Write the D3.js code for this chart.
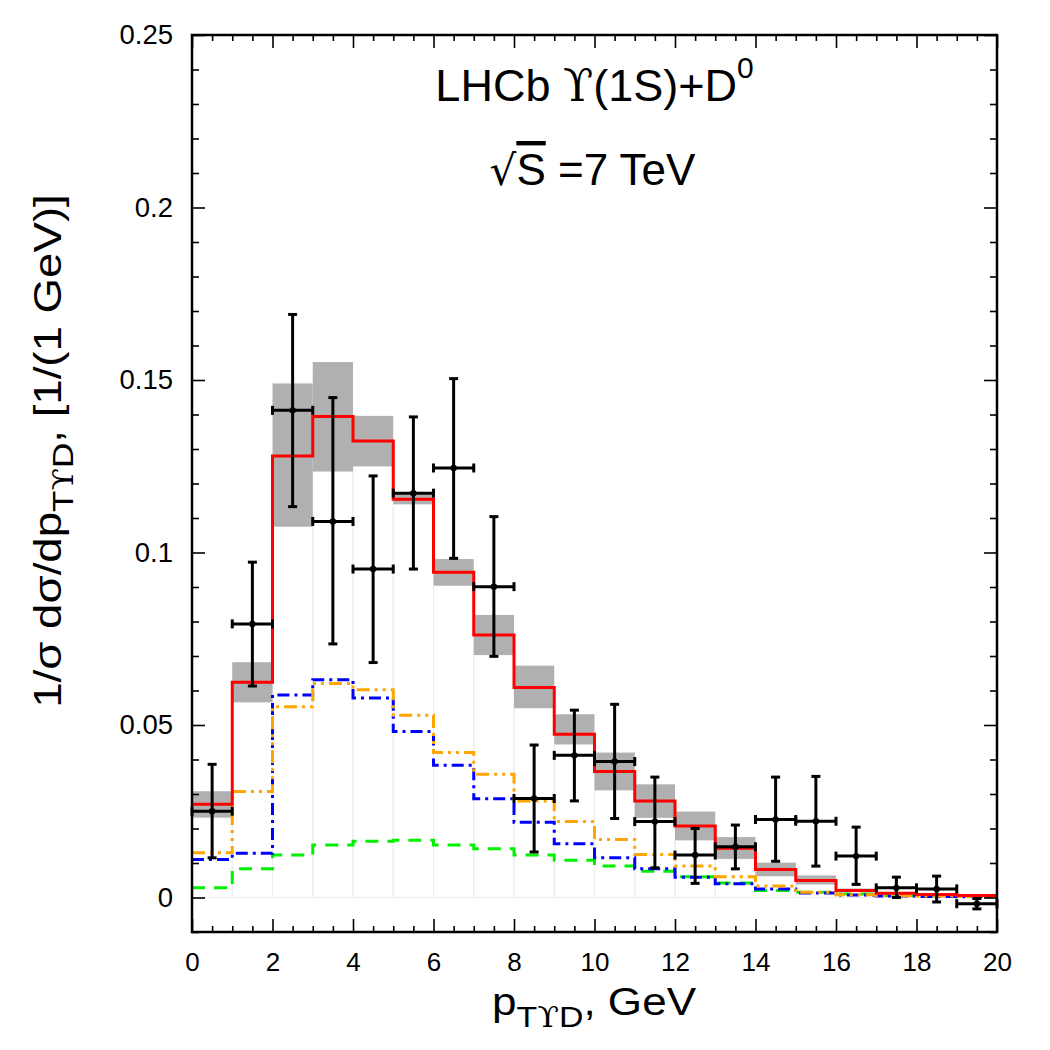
<!DOCTYPE html>
<html>
<head>
<meta charset="utf-8">
<script src="https://cdn.jsdelivr.net/npm/d3@7"></script>
<style>
  html, body { margin: 0; padding: 0; background: #fff; }
  svg { display: block; font-family: "Liberation Sans", Arial, Helvetica, sans-serif; }
</style>
</head>
<body>
<svg id="chart" width="1050" height="1050"></svg>
<script>
// ---------- data ----------
const binEdges = [0,1,2,3,4,5,6,7,8,9,10,11,12,13,14,15,16,17,18,19,20];

// total prediction (red) and its uncertainty band (grey)
const totalPred = [0.027,0.0624,0.128,0.1394,0.1323,0.1154,0.0943,0.0761,0.0609,0.0473,0.0365,0.0280,0.0207,0.0143,0.0081,0.0049,0.0020,0.0012,0.0009,0.0006];
const bandLow   = [0.0232,0.0566,0.1075,0.1235,0.1250,0.1140,0.0904,0.0703,0.0549,0.0444,0.0311,0.0231,0.0166,0.0112,0.0062,0.0038,0.0016,0.0009,0.0006,0.0004];
const bandHigh  = [0.0308,0.0682,0.1490,0.1552,0.1396,0.1175,0.0981,0.0819,0.0672,0.0531,0.0420,0.0328,0.0249,0.0175,0.0101,0.0064,0.0026,0.0016,0.0012,0.0008];

// components
const orangePred = [0.013,0.0307,0.0553,0.0620,0.0602,0.0528,0.0420,0.0357,0.0280,0.0220,0.0168,0.0125,0.0091,0.0060,0.0033,0.0015,0.0008,0.0005,0.0004,0.0003];
const bluePred   = [0.011,0.0128,0.0587,0.0631,0.0578,0.0481,0.0383,0.0286,0.0218,0.0156,0.0115,0.0083,0.0059,0.0040,0.0025,0.0013,0.0007,0.0004,0.0003,0.0002];
const greenPred  = [0.0028,0.0083,0.0123,0.0152,0.0163,0.0166,0.0152,0.0141,0.0123,0.0108,0.0091,0.0076,0.0060,0.0042,0.0020,0.0015,0.0010,0.0006,0.0004,0.0003];

// LHCb data points
const dataX    = [0.5,1.5,2.5,3.5,4.5,5.5,6.5,7.5,8.5,9.5,10.5,11.5,12.5,13.5,14.5,15.5,16.5,17.5,18.5,19.5];
const dataY    = [0.025,0.0793,0.1412,0.109,0.0952,0.1172,0.1245,0.0901,0.0287,0.0412,0.0394,0.022,0.0123,0.0147,0.0226,0.0221,0.012,0.0028,0.0025,-0.0018];
const dataYHi  = [0.0386,0.0972,0.169,0.1449,0.1222,0.1393,0.1504,0.1104,0.0442,0.0543,0.056,0.0349,0.020,0.021,0.0349,0.0351,0.0204,0.0059,0.0062,-0.0003];
const dataYLo  = [0.0115,0.0613,0.1133,0.0735,0.0681,0.0952,0.0983,0.0699,0.0132,0.028,0.0229,0.0086,0.0041,0.0083,0.0105,0.0091,0.0038,0.0,-0.0013,-0.0033];
const dataXErr = [0.5,0.5,0.5,0.5,0.5,0.5,0.5,0.5,0.5,0.5,0.5,0.5,0.5,0.5,0.5,0.5,0.5,0.5,0.5,0.5];

// ticks
const xTickValues = [0,2,4,6,8,10,12,14,16,18,20];
const xTickLabels = ["0","2","4","6","8","10","12","14","16","18","20"];
const yTickValues = [0,0.05,0.1,0.15,0.2,0.25];
const yTickLabels = ["0","0.05","0.1","0.15","0.2","0.25"];

// ---------- layout ----------
const svg = d3.select("#chart");
const L = 192, T = 35, R = 997, B = 932;
const W = R - L, H = B - T;

const x = d3.scaleLinear().domain([0, 20]).range([0, W]);
const y = d3.scaleLinear().domain([-0.01, 0.25]).range([H, 0]);

const g = svg.append("g").attr("transform", `translate(${L},${T})`);

const nb = totalPred.length;
const bins = d3.range(nb).map(i => ({x0: binEdges[i], x1: binEdges[i+1], i}));

// faint boxes from 0 to lower band
g.append("g").selectAll("rect").data(bins).join("rect")
  .attr("x", d => x(d.x0)).attr("width", d => x(d.x1) - x(d.x0))
  .attr("y", d => y(bandLow[d.i])).attr("height", d => y(0) - y(bandLow[d.i]))
  .attr("fill", "none").attr("stroke", "#ececec").attr("stroke-width", 1);

// grey uncertainty band
g.append("g").selectAll("rect").data(bins).join("rect")
  .attr("x", d => x(d.x0)).attr("width", d => x(d.x1) - x(d.x0))
  .attr("y", d => y(bandHigh[d.i])).attr("height", d => y(bandLow[d.i]) - y(bandHigh[d.i]))
  .attr("fill", "#b0b0b0");

// step histograms
const step = d3.line().x(d => x(d[0])).y(d => y(d[1])).curve(d3.curveStepAfter);
function histPts(vals) {
  const p = vals.map((v, i) => [binEdges[i], v]);
  p.push([binEdges[vals.length], vals[vals.length - 1]]);
  return p;
}
const series = [
  {vals: greenPred,  color: "#00f000", dash: "13,9"},
  {vals: bluePred,   color: "#0000ff", dash: "12,5,3,5"},
  {vals: orangePred, color: "#ffa500", dash: "13,5,3,5,3,5"},
  {vals: totalPred,  color: "#ff0000", dash: null}
];
series.forEach(s => {
  g.append("path").attr("d", step(histPts(s.vals)))
    .attr("fill", "none").attr("stroke", s.color).attr("stroke-width", 3)
    .attr("stroke-dasharray", s.dash);
});

// data points with error bars
const pts = dataX.map((v, i) => ({x: v, y: dataY[i], hi: dataYHi[i], lo: dataYLo[i], xe: dataXErr[i]}));
const pg = g.append("g").attr("stroke", "#000").attr("stroke-width", 3);
const cap = 4.5;
pts.forEach(p => {
  const cx = x(p.x), cy = y(p.y);
  pg.append("line").attr("x1", cx).attr("x2", cx).attr("y1", y(p.hi)).attr("y2", y(p.lo));
  pg.append("line").attr("x1", x(p.x - p.xe)).attr("x2", x(p.x + p.xe)).attr("y1", cy).attr("y2", cy);
  pg.append("line").attr("x1", cx - cap).attr("x2", cx + cap).attr("y1", y(p.hi)).attr("y2", y(p.hi));
  pg.append("line").attr("x1", cx - cap).attr("x2", cx + cap).attr("y1", y(p.lo)).attr("y2", y(p.lo));
  pg.append("line").attr("x1", x(p.x - p.xe)).attr("x2", x(p.x - p.xe)).attr("y1", cy - cap).attr("y2", cy + cap);
  pg.append("line").attr("x1", x(p.x + p.xe)).attr("x2", x(p.x + p.xe)).attr("y1", cy - cap).attr("y2", cy + cap);
});
g.append("g").selectAll("circle").data(pts).join("circle")
  .attr("cx", d => x(d.x)).attr("cy", d => y(d.y)).attr("r", 3.2).attr("fill", "#000");

// ---------- axes ----------
const xMinor = d3.range(0, 20.001, 0.5).filter(v => Math.abs(v / 2 - Math.round(v / 2)) > 1e-6);
const yMinor = d3.range(-0.01, 0.2501, 0.01).map(v => +v.toFixed(2)).filter(v => Math.abs(v / 0.05 - Math.round(v / 0.05)) > 1e-6);

function styleAxis(fs) {
  return sel => {
    sel.select(".domain").remove();
    sel.selectAll(".tick line").attr("stroke", "#000").attr("stroke-width", 1.6);
    sel.selectAll(".tick text").attr("fill", "#000").attr("font-family", "Liberation Sans, Arial, sans-serif")
      .attr("font-size", fs || 26);
  };
}

g.append("g").attr("transform", `translate(0,${H})`)
  .call(d3.axisBottom(x).tickValues(xTickValues).tickFormat((d, i) => xTickLabels[i]).tickSize(-13).tickPadding(21))
  .call(styleAxis(26));
g.append("g").attr("transform", `translate(0,${H})`)
  .call(d3.axisBottom(x).tickValues(xMinor).tickFormat("").tickSize(-6)).call(styleAxis());
g.append("g")
  .call(d3.axisTop(x).tickValues(xTickValues).tickFormat("").tickSize(-13)).call(styleAxis());
g.append("g")
  .call(d3.axisTop(x).tickValues(xMinor).tickFormat("").tickSize(-6)).call(styleAxis());

g.append("g")
  .call(d3.axisLeft(y).tickValues(yTickValues).tickFormat((d, i) => yTickLabels[i]).tickSize(-13).tickPadding(19))
  .call(styleAxis(27.5));
g.append("g")
  .call(d3.axisLeft(y).tickValues(yMinor).tickFormat("").tickSize(-7)).call(styleAxis());
g.append("g").attr("transform", `translate(${W},0)`)
  .call(d3.axisRight(y).tickValues(yTickValues).tickFormat("").tickSize(-13)).call(styleAxis());
g.append("g").attr("transform", `translate(${W},0)`)
  .call(d3.axisRight(y).tickValues(yMinor).tickFormat("").tickSize(-7)).call(styleAxis());

// frame
g.append("rect").attr("x", 0).attr("y", 0).attr("width", W).attr("height", H)
  .attr("fill", "none").attr("stroke", "#000").attr("stroke-width", 2.5);

// ---------- texts ----------
const serif = "DejaVu Serif, serif";
const cxTxt = L + W / 2;

const t1 = svg.append("text").attr("x", cxTxt).attr("y", 101).attr("text-anchor", "middle")
  .attr("font-size", 45).attr("fill", "#000");
t1.append("tspan").text("LHCb ");
t1.append("tspan").attr("font-family", serif).attr("font-size", 44).text("ϒ");
t1.append("tspan").text("(1S)+D");
t1.append("tspan").attr("font-size", 30).attr("dy", -23).text("0");

const t2 = svg.append("text").attr("x", cxTxt - 2).attr("y", 185).attr("text-anchor", "middle")
  .attr("font-size", 44).attr("fill", "#000");
t2.append("tspan").attr("font-family", serif).attr("font-size", 42).text("√");
t2.append("tspan").attr("text-decoration", "overline").style("text-decoration", "overline").text("S");
t2.append("tspan").text(" =7 TeV");

// x label
const xl = svg.append("text").attr("transform", "translate(594,1015) scale(1.13,1)")
  .attr("text-anchor", "middle").attr("font-size", 39).attr("fill", "#000");
xl.append("tspan").text("p");
xl.append("tspan").attr("font-size", 30).attr("dy", 12).text("T");
xl.append("tspan").attr("font-size", 28).attr("font-family", serif).text("ϒ");
xl.append("tspan").attr("font-size", 30).text("D");
xl.append("tspan").attr("dy", -12).text(", GeV");

// y label
const yl = svg.append("text").attr("transform", "translate(61,451) rotate(-90) scale(1.17,1)")
  .attr("text-anchor", "middle").attr("font-size", 39).attr("fill", "#000");
yl.append("tspan").text("1/σ dσ/dp");
yl.append("tspan").attr("font-size", 30).attr("dy", 12).text("T");
yl.append("tspan").attr("font-size", 28).attr("font-family", serif).text("ϒ");
yl.append("tspan").attr("font-size", 30).text("D");
yl.append("tspan").attr("dy", -12).text(", [1/(1 GeV)]");
</script>
</body>
</html>
